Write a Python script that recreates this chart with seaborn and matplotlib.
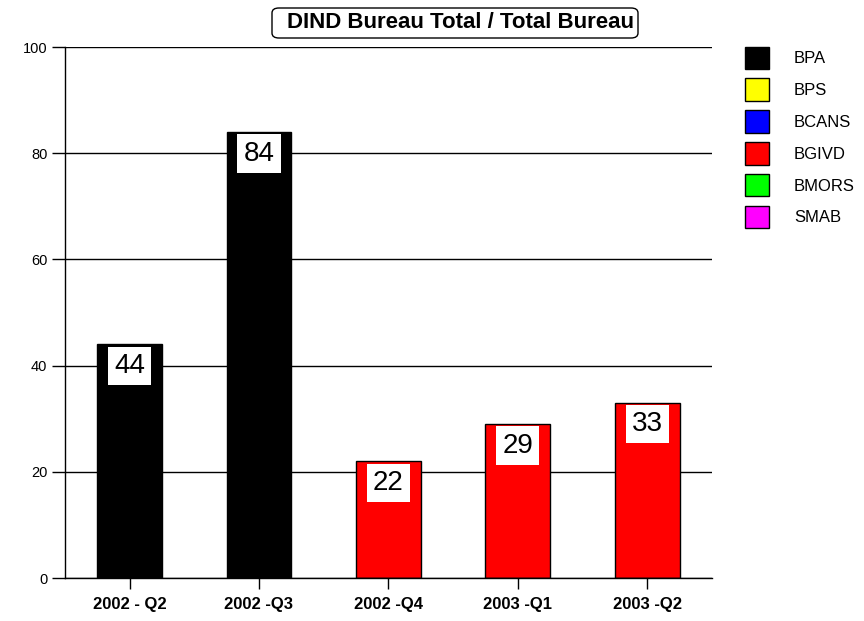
import pandas as pd
import matplotlib.pyplot as plt
from matplotlib.patches import FancyBboxPatch
import seaborn as sns

# ---- data ----
quarters = ["2002 - Q2", "2002 -Q3", "2002 -Q4", "2003 -Q1", "2003 -Q2"]
series = ["BPA", "BPS", "BCANS", "BGIVD", "BMORS", "SMAB"]
colors = ["#000000", "#FFFF00", "#0000FF", "#FF0000", "#00FF00", "#FF00FF"]
bpa = [44, 84, 0, 0, 0]
bps = [0, 0, 0, 0, 0]
bcans = [0, 0, 0, 0, 0]
bgivd = [0, 0, 22, 29, 33]
bmors = [0, 0, 0, 0, 0]
smab = [0, 0, 0, 0, 0]
totals = [44, 84, 22, 29, 33]

values = [bpa, bps, bcans, bgivd, bmors, smab]
rows = []
for name, vals in zip(series, values):
    for q, v in zip(quarters, vals):
        rows.append({"quarter": q, "series": name, "value": v})
df = pd.DataFrame(rows)

sns.set_theme(style="white")
plt.rcParams['font.family'] = ['Liberation Sans', 'DejaVu Sans']
plt.rcParams['text.color'] = 'black'
plt.rcParams['xtick.color'] = 'black'
plt.rcParams['ytick.color'] = 'black'

fig = plt.figure(figsize=(8.64, 6.21), dpi=100)
ax = fig.add_axes([0.075, 0.0692, 0.749, 0.855])

sns.barplot(data=df, x="quarter", y="value", hue="series", hue_order=series,
            palette=colors, saturation=1, dodge=False, width=0.5,
            edgecolor="black", linewidth=1, ax=ax, legend=False, zorder=3)

ax.set_ylim(0, 100)
ax.set_xlim(-0.5, 4.5)
ax.set_yticks([0, 20, 40, 60, 80, 100])
ax.yaxis.grid(True, color="black", linewidth=1)
ax.set_axisbelow(True)
for s in ["top", "right"]:
    ax.spines[s].set_visible(False)
for s in ["left", "bottom"]:
    ax.spines[s].set_color("black")
    ax.spines[s].set_linewidth(1)
ax.tick_params(axis="y", direction="out", length=9.5, width=1,
               labelsize=10.5, left=True, pad=3)
ax.tick_params(axis="x", direction="out", length=8, width=1,
               labelsize=12, bottom=True, pad=6)
for lbl in ax.get_xticklabels():
    lbl.set_fontweight("bold")
ax.set_xlabel("")
ax.set_ylabel("")

# value boxes at top of each bar
for i, t in enumerate(totals):
    ax.annotate(str(t), (i, t), xytext=(0, -15.5), textcoords="offset points",
                ha="center", va="center", fontsize=20, color="black", zorder=5,
                bbox=dict(boxstyle="square,pad=0.22", facecolor="white",
                          edgecolor="none"))

# title in rounded box (text runs slightly past the box, as in the original)
W, H = 864, 621
fig.patches.append(FancyBboxPatch((272 / W, 1 - 38 / H), 366 / W, 30 / H,
                                  boxstyle="round,pad=0,rounding_size=0.008",
                                  transform=fig.transFigure, facecolor="white",
                                  edgecolor="black", linewidth=1))
fig.text(287 / W, 1 - 23 / H, "DIND Bureau Total / Total Bureau", ha="left",
         va="center", fontsize=16, fontweight="bold")

# legend
handles = [plt.Rectangle((0, 0), 1, 1, facecolor=c, edgecolor="black",
                         linewidth=1) for c in colors]
fig.legend(handles, series, loc="upper left", bbox_to_anchor=(0.862, 0.925),
           frameon=False, fontsize=12, handlelength=1.45, handleheight=1.7,
           labelspacing=0.56, handletextpad=1.5, borderpad=0, borderaxespad=0)

fig.savefig("out.png", dpi=100)
